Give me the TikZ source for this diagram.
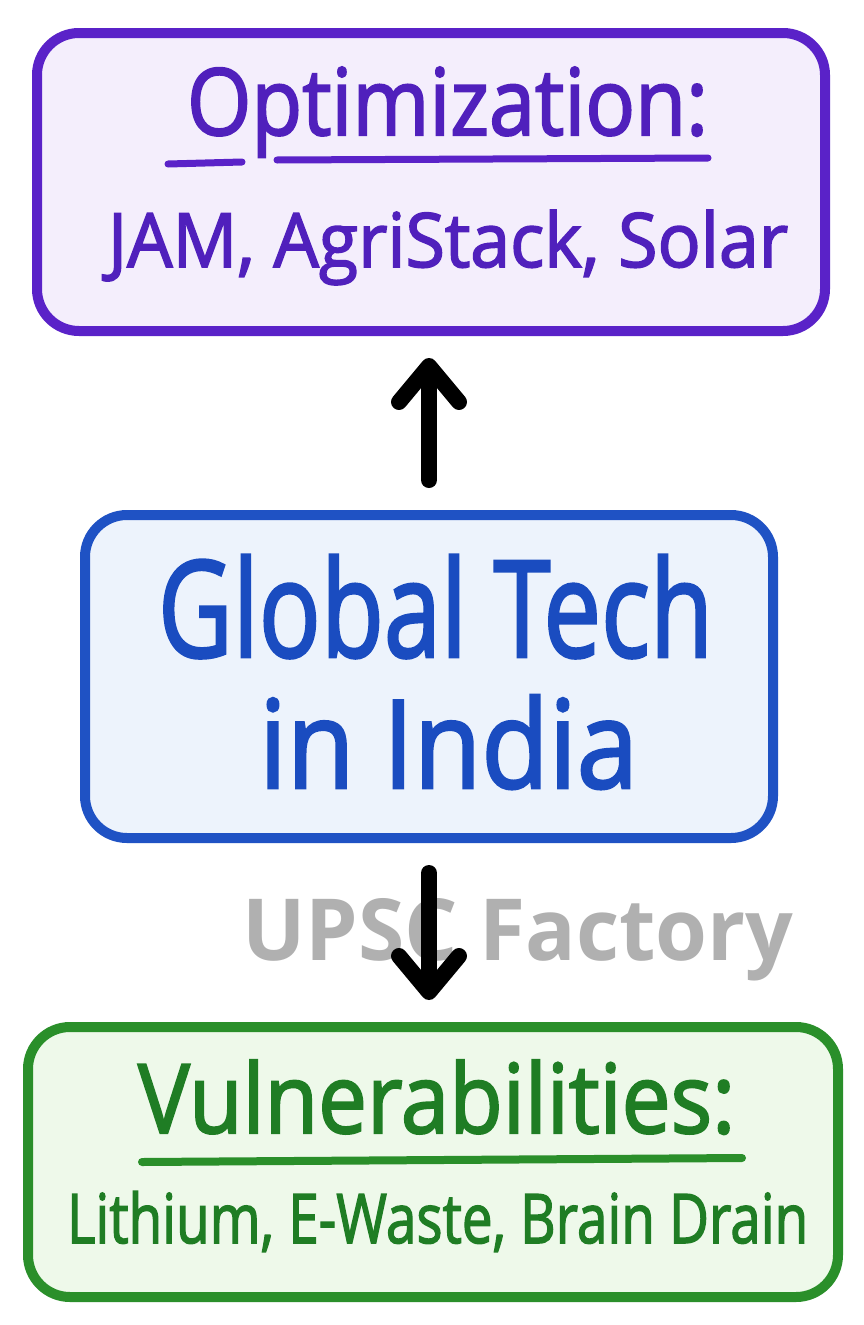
\documentclass[tikz,border=0pt]{standalone}
\usepackage{graphicx}
\usepackage{fontspec}
\setmainfont{Open Sans}
\newfontfamily\hwfont[FakeBold=2.2]{Open Sans}
\newfontfamily\wmfont{Open Sans}
\usetikzlibrary{arrows.meta}
\definecolor{pBorder}{HTML}{5A22C8}
\definecolor{pFill}{HTML}{F4EEFC}
\definecolor{pText}{HTML}{5020BC}
\definecolor{bBorder}{HTML}{1F52C4}
\definecolor{bFill}{HTML}{EDF3FC}
\definecolor{bText}{HTML}{1A4CC0}
\definecolor{gBorder}{HTML}{2A8F2A}
\definecolor{gFill}{HTML}{EEF9EA}
\definecolor{gText}{HTML}{1F7D24}
\definecolor{wmGray}{HTML}{B0B0B0}
\newcommand{\fitbox}[3]{\resizebox{#1pt}{#2pt}{#3}}
\tikzset{
  panel/.style={draw, line width=10pt, rounded corners=42pt, inner sep=0pt},
  label/.style={inner sep=0pt, outer sep=0pt, anchor=base west, font=\hwfont},
  uline/.style={line width=7pt, line cap=round},
  flowarrow/.style={draw=black, line width=16pt, line cap=round,
    -{Straight Barb[length=36pt, width=60pt, round]}},
}
\begin{document}
\begin{tikzpicture}[x=1pt, y=-1pt]
\useasboundingbox (0,0) rectangle (863,1325);
\fill[white] (0,0) rectangle (863,1325);

% boxes
\node[panel, draw=pBorder, fill=pFill, minimum width=788pt, minimum height=298pt] (top) at (431,182) {};
\node[panel, draw=bBorder, fill=bFill, minimum width=688pt, minimum height=323pt] (mid) at (429,676.5) {};
\node[panel, draw=gBorder, fill=gFill, minimum width=810pt, minimum height=270pt] (bot) at (433,1162) {};

% top texts
\node[label, text=pText] (t1) at (187,135) {\fitbox{521}{68}{Optimization:}};
\draw[uline, pBorder] (168,164) -- (242,162);
\draw[uline, pBorder] (277,160) -- (708,158);
\node[label, text=pText] (t2) at (108,267) {\fitbox{680}{57}{JAM, AgriStack, Solar}};

% middle texts
\node[label, text=bText] (m1) at (158,657) {\fitbox{555}{102}{Global Tech}};
\node[label, text=bText] (m2) at (259,788) {\fitbox{379}{93}{in India}};

% bottom texts
\node[label, text=gText] (b1) at (138,1133) {\fitbox{597}{73}{Vulnerabilities:}};
\draw[uline, gBorder, line width=8pt] (142,1162) -- (742,1158);
\node[label, text=gText] (b2) at (67,1243) {\fitbox{741}{52}{Lithium, E-Waste, Brain Drain}};

% watermark
\node[label, text=wmGray, font=\wmfont] (wm) at (242,960) {\fitbox{551}{62}{\bfseries UPSC Factory}};

% arrows
\draw[flowarrow, shorten <=30pt, shorten >=22pt] (mid.north) -- (mid.north |- top.south);
\draw[flowarrow, shorten <=30pt, shorten >=22pt] (mid.south) -- (mid.south |- bot.north);
\end{tikzpicture}
\end{document}
